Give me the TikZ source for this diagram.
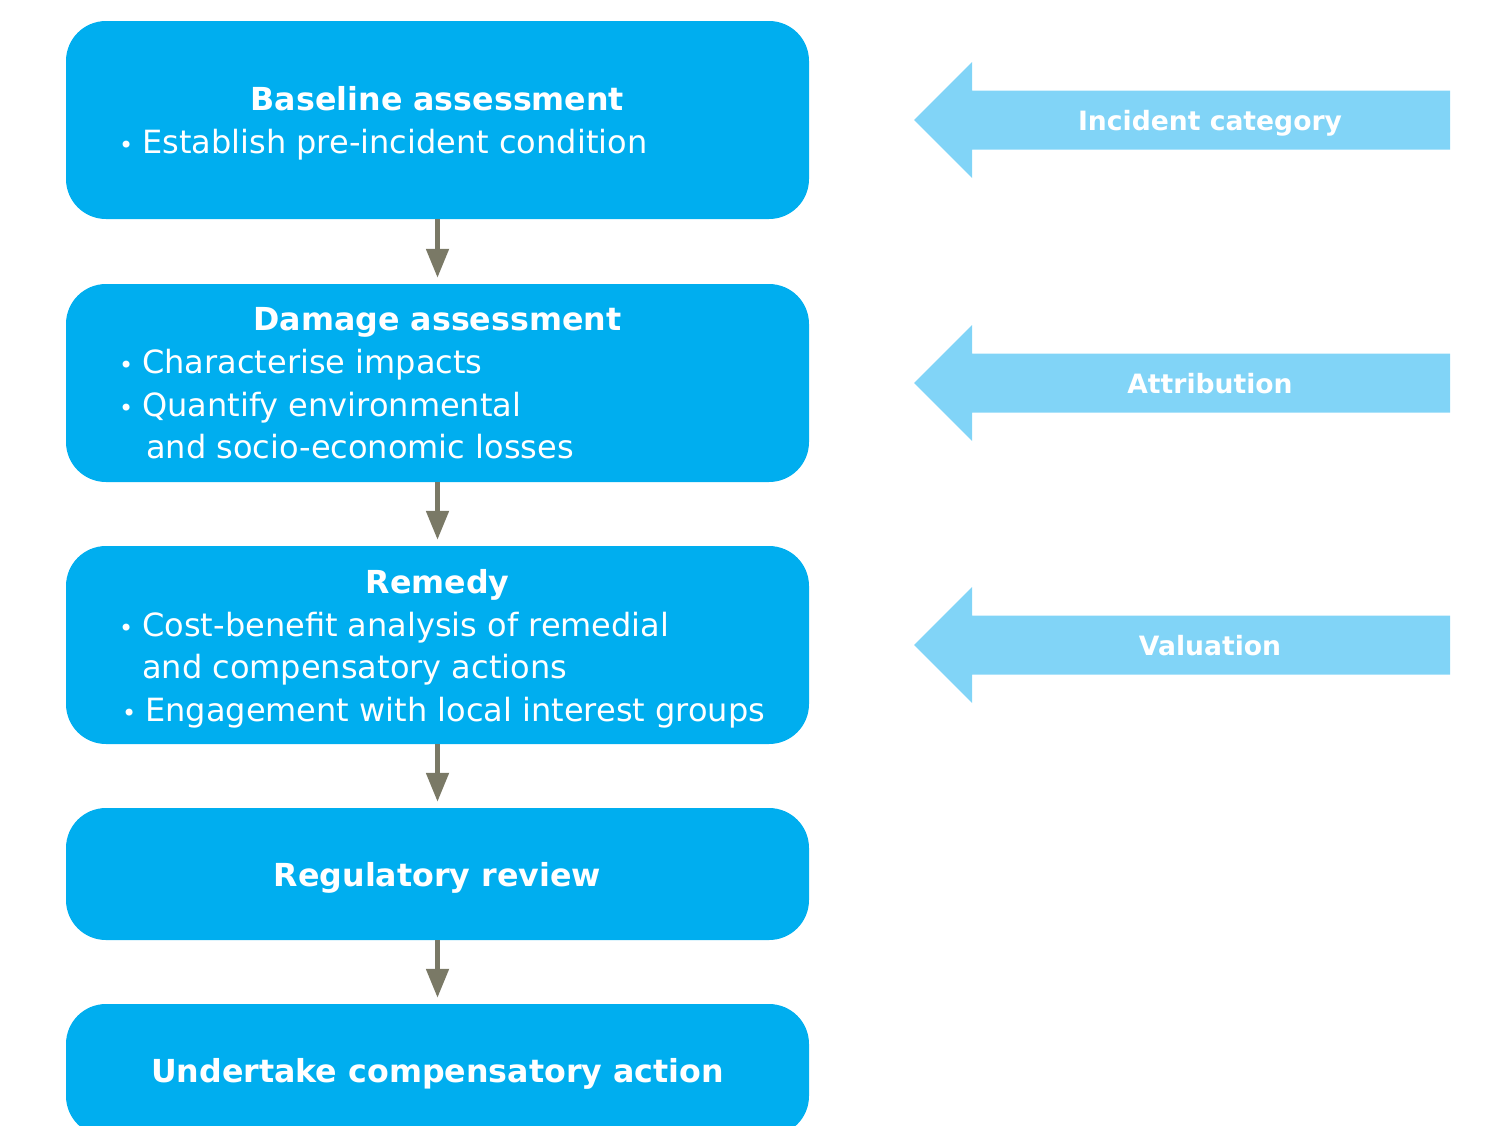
\documentclass[tikz,border=0pt]{standalone}
\usepackage{fontspec}
\setmainfont{DejaVu Sans}
\usetikzlibrary{arrows.meta}
\definecolor{boxblue}{HTML}{00AEEF}
\definecolor{lightblue}{HTML}{81D4F7}
\definecolor{arrowgray}{HTML}{7A7966}
\tikzset{
  stepbox/.style={fill=boxblue, draw=none, rounded corners=40pt, minimum width=743pt, inner sep=0pt},
  flow/.style={draw=arrowgray, line width=5pt, -{Triangle[length=29pt,width=22pt]}, shorten >=6pt},
  ttl/.style={text=white, font=\fontsize{31.7}{38}\selectfont\bfseries, anchor=base, inner sep=0pt},
  txt/.style={text=white, font=\fontsize{32}{38}\selectfont, anchor=base west, inner sep=0pt},
  sidelbl/.style={text=white, font=\fontsize{26.6}{32}\selectfont\bfseries, anchor=base, inner sep=0pt},
  sidearrow/.style={fill=lightblue, draw=none}
}
\newcommand{\bul}{{\fontsize{24}{30}\selectfont\textbullet}\hspace{9pt}}
\begin{document}
\begin{tikzpicture}[x=1pt,y=-1pt]
\useasboundingbox (0,0) rectangle (1494,1125);
% boxes
\node[stepbox, minimum height=198pt] (b1) at (437.5,120) {};
\node[stepbox, minimum height=198pt] (b2) at (437.5,383) {};
\node[stepbox, minimum height=198pt] (b3) at (437.5,645) {};
\node[stepbox, minimum height=132pt] (b4) at (437.5,874) {};
\node[stepbox, minimum height=132pt] (b5) at (437.5,1070) {};
% arrows
\draw[flow] (b1.south) -- (b2.north);
\draw[flow] (b2.south) -- (b3.north);
\draw[flow] (b3.south) -- (b4.north);
\draw[flow] (b4.south) -- (b5.north);
% box 1 text
\node[ttl] (t1) at (437.5,110) {Baseline assessment};
\node[txt] (t1a) at (119,153) {\bul Establish pre-incident condition};
% box 2 text
\node[ttl] (t2) at (437.5,330) {Damage assessment};
\node[txt] (t2a) at (119,373) {\bul Characterise impacts};
\node[txt] (t2b) at (119,416) {\bul Quantify environmental};
\node[txt] (t2c) at (146,458) {and socio-economic losses};
% box 3 text
\node[ttl] (t3) at (437.5,593) {Remedy};
\node[txt] (t3a) at (119,636) {\bul Cost-benefit analysis of remedial};
\node[txt] (t3b) at (142,678) {and compensatory actions};
\node[txt] (t3c) at (122,721) {\bul Engagement with local interest groups};
% box 4, 5 text
\node[ttl] (t4) at (437.5,886) {Regulatory review};
\node[ttl] (t5) at (437.5,1082) {Undertake compensatory action};
% side arrows
\foreach \cy/\nm/\lbl in {120/s1/Incident category, 383/s2/Attribution, 645/s3/Valuation}{
  \fill[sidearrow] (914,\cy) -- (972,\cy-58) -- (972,\cy-29.5) -- (1450,\cy-29.5)
     -- (1450,\cy+29.5) -- (972,\cy+29.5) -- (972,\cy+58) -- cycle;
  \node[sidelbl] (\nm) at (1210,\cy+10) {\lbl};
}
\end{tikzpicture}
\end{document}
